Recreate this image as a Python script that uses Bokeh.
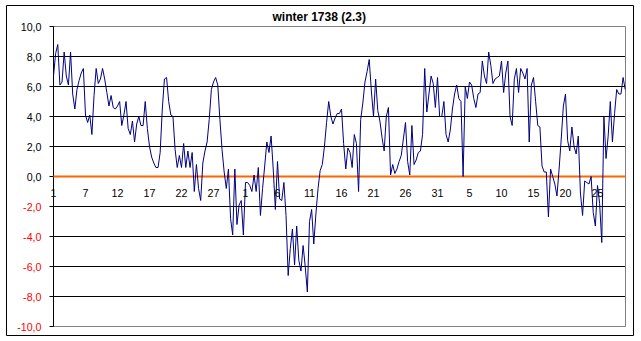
import numpy as np
from bokeh.plotting import figure
from bokeh.models import Range1d, ColumnDataSource
from bokeh.core.properties import value
from bokeh.embed import file_html
from bokeh.resources import INLINE

title_text = "winter 1738 (2.3)"

# three readings per day
temp_dec = [6.7, 8.2, 8.8, 6.1, 6.3, 8.3, 6.7, 6.1, 8.3, 5.5,
            4.5, 5.8, 6.4, 6.9, 7.2, 4.1, 3.6, 4.1, 2.8, 5.4,
            7.2, 6.2, 6.5, 7.2, 6.5, 5.6, 4.7, 5.4, 4.6, 4.5,
            4.7, 5.0, 3.4, 4.1, 5.0, 3.2, 2.8, 3.7, 2.3, 3.5,
            4.0, 3.4, 3.4, 5.0, 3.2, 2.0, 1.3, 0.9, 0.6, 0.6,
            1.6, 4.5, 6.5, 6.6, 5.0, 4.1, 4.0, 1.8, 0.6, 1.4,
            0.6, 2.2, 0.6, 1.7, 0.6, 1.6, -1.0, 0.8, -0.8, -1.6,
            0.9, 1.7, 2.3, 3.8, 5.8, 6.3, 6.6, 6.1, 3.8, 1.8,
            0.3, -0.8, 0.5, -2.8, -3.9, 0.5, -3.2, -1.9, -1.6, -3.9]
temp_jan = [-0.4, -0.4, -0.6, -1.0, 0.1, -1.0, 0.6, -2.6, -0.8, 0.7,
            2.3, 1.6, 2.7, 0.5, -2.2, 1.0, -1.5, -1.6, -0.4, -2.6,
            -6.6, -4.8, -3.5, -5.9, -3.3, -5.6, -6.3, -4.6, -6.0, -7.7,
            -3.0, -2.2, -4.5, -2.5, -0.8, 0.4, 0.8, 2.0, 3.6, 5.0,
            4.0, 3.5, 3.9, 4.2, 4.2, 4.5, 2.2, 0.5, 1.9, 1.6,
            0.6, 2.8, 2.2, -1.0, 3.8, 4.9, 6.3, 7.0, 7.8, 5.7,
            4.0, 6.5, 4.4, 3.7, 2.6, 1.7, 4.0, 4.6, 0.1, 0.8,
            0.2, 0.5, 1.0, 1.4, 2.5, 3.6, 1.0, 0.1, 3.4, 0.8,
            1.1, 1.6, 1.7, 2.8, 7.2, 4.3, 5.5, 6.7, 6.2, 4.6,
            6.6, 4.0, 4.0]
temp_feb = [5.0, 2.8, 2.3, 3.1, 4.5, 5.5, 6.1,
            5.2, 5.0, 0.0, 6.0, 5.2, 6.3, 6.1, 5.2, 4.6, 5.5,
            5.6, 7.7, 6.7, 6.2, 8.3, 7.4, 6.2, 6.5, 6.6, 6.7,
            7.7, 5.6, 6.9, 7.7, 4.0, 3.4, 6.5, 7.2, 5.6, 7.2,
            6.9, 6.5, 7.2, 2.3, 6.1, 6.6, 5.0, 3.4, 3.3, 0.7,
            0.3, 0.3, -2.7, 0.5, 0.0, -0.5, -1.3, 0.5, 2.5, 4.7,
            5.5, 2.4, 1.7, 3.3, 2.0, 1.5, 2.7, -1.1, -2.6, -0.3,
            -0.4, -0.5, 0.0, -2.4, -3.3, -0.6, -1.8, -4.4, 4.0, 1.2,
            2.7, 5.0, 2.3, 4.2, 5.8, 5.5, 5.5, 6.6, 5.8]

x_labels = ["1", "7", "12", "17", "22", "27", "1", "6", "11", "16",
            "21", "26", "31", "5", "10", "15", "20", "25"]
y_ticks = [10, 8, 6, 4, 2, 0, -2, -4, -6, -8, -10]
y_tick_labels = ["10,0", "8,0", "6,0", "4,0", "2,0", "0,0",
                 "-2,0", "-4,0", "-6,0", "-8,0", "-10,0"]

temps = temp_dec + temp_jan + temp_feb
x = np.arange(len(temps)) / 3.0

FONT = value("Liberation Sans")

# pixel geometry of the Excel-style chart (plot area 53..625 x 26..326)
PX_PER_DAY = 6.4
PX_PER_DEG = 15.0
X_END = 572 / PX_PER_DAY          # right edge of plot area in days
Y_MIN, Y_MAX = -10, 10

p = figure(width=641, height=341,
           x_range=Range1d(-53 / PX_PER_DAY, (641 - 53) / PX_PER_DAY),
           y_range=Range1d(Y_MIN - 15 / PX_PER_DEG, Y_MAX + 26 / PX_PER_DEG),
           x_axis_type=None, y_axis_type=None,
           toolbar_location=None, output_backend="svg", min_border=0)
p.background_fill_color = "white"
p.border_fill_color = "white"
p.outline_line_color = None
p.grid.visible = False

# outer chart border
p.quad(left=[-47 / PX_PER_DAY], right=[580 / PX_PER_DAY],
       top=[Y_MAX + 21 / PX_PER_DEG], bottom=[Y_MIN - 9 / PX_PER_DEG],
       fill_color=None, line_color="black", line_width=1)

# horizontal gridlines (black) and plot-area border (grey)
grid_y = [t for t in y_ticks if abs(t) not in (0, 10)]
p.segment(x0=[0] * len(grid_y), x1=[X_END] * len(grid_y), y0=grid_y,
          y1=grid_y, line_color="black", line_width=1)
p.quad(left=[0], right=[X_END], top=[Y_MAX], bottom=[Y_MIN],
       fill_color=None, line_color="#808080", line_width=1)

# y axis line and tick marks
p.segment(x0=[0], x1=[0], y0=[Y_MIN], y1=[Y_MAX], line_color="black",
          line_width=1)
p.segment(x0=[-4 / PX_PER_DAY] * len(y_ticks), x1=[0] * len(y_ticks),
          y0=y_ticks, y1=y_ticks, line_color="black", line_width=1)

# zero line (category axis)
p.segment(x0=[0], x1=[X_END], y0=[0], y1=[0], line_color="#FF6600",
          line_width=2)

# data
p.line(x, temps, line_color="#000080", line_width=1)

# y tick labels (negative values red)
ysrc = ColumnDataSource(dict(
    x=[0] * len(y_ticks), y=y_ticks, text=y_tick_labels,
    color=["black" if t >= 0 else "#FF0000" for t in y_ticks]))
p.text(x="x", y="y", text="text", source=ysrc, x_offset=-12,
       text_align="right", text_baseline="middle", text_color="color",
       text_font=FONT, text_font_size="10.7px")

# x category labels under the zero line
xsrc = ColumnDataSource(dict(
    x=[5 * i for i in range(len(x_labels))],
    y=[-16 / PX_PER_DEG] * len(x_labels), text=x_labels))
p.text(x="x", y="y", text="text", source=xsrc, text_align="center",
       text_baseline="middle", text_color="black", text_font=FONT,
       text_font_size="10.7px")

# title
p.text(x=[(318.7 - 53) / PX_PER_DAY], y=[Y_MAX + 10 / PX_PER_DEG],
       text=[title_text], text_align="center", text_baseline="middle",
       text_font=FONT, text_font_style="bold", text_font_size="12px",
       text_color="black")

open("out.html", "w").write(file_html(p, INLINE))
